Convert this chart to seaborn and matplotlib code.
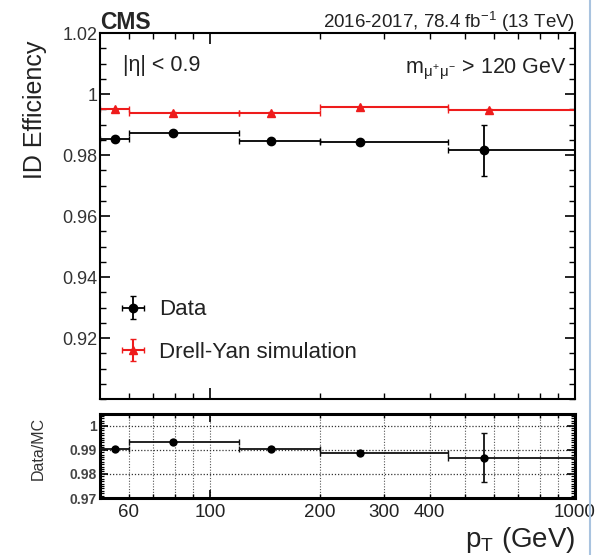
import numpy as np
import pandas as pd
import seaborn as sns
import matplotlib
matplotlib.use("Agg")
import matplotlib.pyplot as plt
from matplotlib.ticker import FixedLocator, FuncFormatter, MultipleLocator, NullFormatter
from matplotlib.lines import Line2D

# ---- data ----
bin_edges = [50, 60, 120, 200, 450, 1000]
data_pt = [55, 79, 147, 258, 564]
mc_pt = [55, 79, 147, 258, 581]
data_eff = [0.9852, 0.9873, 0.9847, 0.9844, 0.9816]
data_err = [0.0005, 0.0005, 0.0004, 0.0004, 0.0084]
mc_eff = [0.9950, 0.9938, 0.9939, 0.9957, 0.9949]
mc_err = [0.0002, 0.0002, 0.0002, 0.0002, 0.0002]
ratio = [0.9902, 0.9934, 0.9905, 0.9885, 0.9867]
ratio_err = [0.0005, 0.0005, 0.0005, 0.0005, 0.0101]
x_labeled_ticks = [60, 100, 200, 300, 400, 1000]
eff_ticks = [0.92, 0.94, 0.96, 0.98, 1.00, 1.02]
eff_tick_labels = ["0.92", "0.94", "0.96", "0.98", "1", "1.02"]
ratio_ticks = [0.97, 0.98, 0.99, 1.00]
ratio_tick_labels = ["0.97", "0.98", "0.99", "1"]

sns.set_theme(style="ticks")
plt.rcParams["font.family"] = ["Liberation Sans", "DejaVu Sans"]
plt.rcParams["mathtext.fontset"] = "custom"
plt.rcParams["mathtext.rm"] = "Liberation Sans"
plt.rcParams["mathtext.it"] = "Liberation Sans"

W, H = 596, 555
fig = plt.figure(figsize=(W / 100, H / 100), dpi=100)
fig.patch.set_facecolor("white")

def axrect(l, t, r, b):
    return [l / W, 1 - b / H, (r - l) / W, (b - t) / H]

ax = fig.add_axes(axrect(100, 33, 575, 399))
rax = fig.add_axes(axrect(100, 414, 575, 498))

lo = np.array(bin_edges[:-1], float)
hi = np.array(bin_edges[1:], float)
dx = np.array(data_pt, float)
mx = np.array(mc_pt, float)

RED = "#ee1c1c"
# MC
ax.errorbar(mx, mc_eff, xerr=[mx - lo, hi - mx], yerr=mc_err, fmt="^", color=RED,
            ms=5.5, lw=1.5, capsize=2.5, capthick=1.0, label="Drell-Yan simulation", zorder=2)
# Data
ax.errorbar(dx, data_eff, xerr=[dx - lo, hi - dx], yerr=data_err, fmt="o", color="black",
            ms=6, lw=1.3, capsize=2.5, capthick=1.0, label="Data", zorder=3)

# Ratio panel
rax.errorbar(dx, ratio, xerr=[dx - lo, hi - dx], yerr=ratio_err, fmt="none", ecolor="#111111",
             lw=1.3, capsize=2, capthick=1.0, zorder=3)
rdf = pd.DataFrame({"pt": data_pt, "ratio": ratio})
sns.scatterplot(data=rdf, x="pt", y="ratio", ax=rax, color="black", s=36,
                edgecolor="black", linewidth=0, legend=False, zorder=4)

for a in (ax, rax):
    a.set_xscale("log")
    a.set_xlim(50, 1000)
    a.set_facecolor("white")
    a.xaxis.set_major_locator(FixedLocator([100, 1000]))
    a.xaxis.set_minor_locator(FixedLocator([60, 70, 80, 90, 200, 300, 400, 500, 600, 700, 800, 900]))
    a.tick_params(which="both", direction="in", top=True, right=True, colors="black")
    a.set_xlabel("")
    a.set_ylabel("")

ax.set_ylim(0.9, 1.02)
ax.yaxis.set_major_locator(FixedLocator(eff_ticks))
ax.set_yticklabels(eff_tick_labels)
ax.yaxis.set_minor_locator(MultipleLocator(0.005))
ax.tick_params(which="major", length=7, width=1.2, labelsize=13, labelcolor="#333333", pad=2)
ax.tick_params(which="minor", length=4, width=1.0)
ax.tick_params(axis="x", which="both", labelbottom=False)
ax.tick_params(axis="x", which="major", length=8)
for s in ax.spines.values():
    s.set_linewidth(1.5)
    s.set_color("black")

rax.set_ylim(0.97, 1.0048)
rax.yaxis.set_major_locator(FixedLocator(ratio_ticks))
rax.set_yticklabels(ratio_tick_labels)
rax.yaxis.set_minor_locator(MultipleLocator(0.001))
rax.tick_params(axis="y", which="major", length=6, width=1.2, labelsize=10, labelcolor="#444444", pad=2)
rax.tick_params(axis="y", which="minor", length=3, width=0.9)
rax.tick_params(axis="x", which="major", length=6, width=1.2, labelsize=13.5, labelcolor="#222222", pad=4)
rax.tick_params(axis="x", which="minor", length=3, width=1.0, labelsize=13.5, labelcolor="#222222", pad=4)
lab_fmt = FuncFormatter(lambda v, p: ("%d" % round(v)) if round(v) in x_labeled_ticks else "")
rax.xaxis.set_major_formatter(lab_fmt)
rax.xaxis.set_minor_formatter(lab_fmt)
for t in rax.get_yticklabels():
    t.set_fontweight("bold")
rax.grid(True, which="major", axis="y", linestyle=(0, (1, 1.5)), color="#333333", lw=0.9)
rax.grid(True, which="both", axis="x", linestyle=(0, (1, 1.5)), color="#555555", lw=0.8)
for s in rax.spines.values():
    s.set_linewidth(2.2)
    s.set_color("black")

# Legend
handles, labels = ax.get_legend_handles_labels()
leg = ax.legend(handles=handles[::-1], labels=labels[::-1],
                loc="lower left", bbox_to_anchor=(0.035, 0.098), frameon=False,
                fontsize=16, handlelength=1.5, handletextpad=0.4, labelspacing=0.98,
                borderpad=0, borderaxespad=0)
for t in leg.get_texts():
    t.set_color("#222222")

# Texts
fig.text(100 / W, 1 - 29 / H, "CMS", fontsize=16.5, fontweight="bold", ha="left", va="baseline")
fig.text(575 / W, 1 - 28 / H, r"2016-2017, 78.4 fb$^{-1}$ (13 TeV)", fontsize=13.5,
         ha="right", va="baseline", color="#222222")
fig.text(123 / W, 1 - 71 / H, r"|η| < 0.9", fontsize=15.5, ha="left", va="baseline", color="#222222")
fig.text(567 / W, 1 - 73 / H, r"m$_{\mu^{+}\mu^{-}}$ > 120 GeV", fontsize=15.5, ha="right",
         va="baseline", color="#222222")
fig.text(35 / W, 1 - 110 / H, "ID Efficiency", fontsize=18, rotation=90, ha="center", va="center",
         color="#222222")
fig.text(38 / W, 1 - 448 / H, "Data/MC", fontsize=11.5, rotation=90, ha="center", va="center",
         color="#333333")
fig.text(575 / W, 1 - 547 / H, r"p$_{\mathrm{T}}$ (GeV)", fontsize=20, ha="right", va="baseline",
         color="#222222")

# thin light-blue border line at the right edge of the screenshot
fig.add_artist(Line2D([589.5 / W, 589.5 / W], [0, 1], transform=fig.transFigure,
                      color="#a9c3df", lw=1.5))

fig.savefig("out.png", dpi=100)
